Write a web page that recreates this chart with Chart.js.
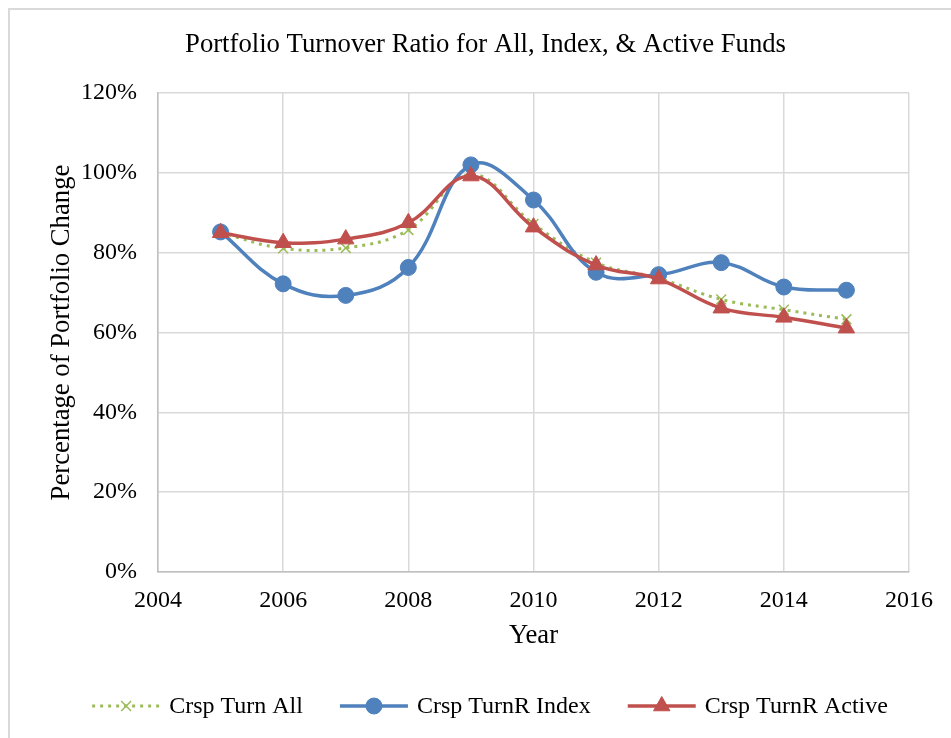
<!DOCTYPE html>
<html>
<head>
<meta charset="utf-8">
<script src="https://cdn.jsdelivr.net/npm/chart.js@4"></script>
<style>
  html, body { margin: 0; padding: 0; background: #fff; }
  #wrap { position: relative; width: 951px; height: 738px; overflow: hidden; }
  #frame { position: absolute; left: 8px; top: 8px; width: 1000px; height: 800px; border: 2px solid #d9d9d9; box-sizing: border-box; }
  canvas { position: absolute; left: 0; top: 0; }
</style>
</head>
<body>
<div id="wrap">
  <div id="frame"></div>
  <canvas id="chart" width="951" height="738"></canvas>
</div>
<script>
// values (percent)
const years = [2005, 2006, 2007, 2008, 2009, 2010, 2011, 2012, 2013, 2014, 2015];
const turnAll = [85.0, 81.1, 81.2, 85.7, 99.6, 87.2, 77.5, 73.6, 68.3, 65.7, 63.3];
const turnIndex = [85.2, 72.2, 69.3, 76.3, 102.0, 93.2, 75.1, 74.5, 77.5, 71.4, 70.6];
const turnActive = [85.0, 82.5, 83.4, 87.5, 99.2, 86.4, 76.9, 73.4, 66.1, 63.8, 61.1];
const yTicks = [0, 20, 40, 60, 80, 100, 120];

const GREEN = '#9bbb59', BLUE = '#4f81bd', RED = '#c0504d';
const FONT = '"Liberation Serif", "Times New Roman", serif';

const pts = arr => arr.map((v, i) => ({ x: years[i], y: v }));

// legend drawn Excel-style: long line with the marker in the middle
const excelLegend = {
  id: 'excelLegend',
  afterDraw(chart) {
    const ctx = chart.ctx;
    const lineLen = 68, gap = 9, itemGap = 37, y = 706;
    ctx.save();
    ctx.font = '24px ' + FONT;
    const items = chart.data.datasets.map(ds => ({ ds, w: ctx.measureText(ds.label).width }));
    const total = items.reduce((s, it) => s + lineLen + gap + it.w, 0) + itemGap * (items.length - 1);
    let x = 490 - total / 2;
    items.forEach(({ ds, w }) => {
      ctx.save();
      ctx.strokeStyle = ds.borderColor;
      ctx.lineWidth = ds.borderWidth;
      ctx.setLineDash(ds.borderDash || []);
      ctx.beginPath();
      ctx.moveTo(x, y);
      ctx.lineTo(x + lineLen, y);
      ctx.stroke();
      ctx.restore();

      ctx.save();
      ctx.fillStyle = ds.pointBackgroundColor;
      ctx.strokeStyle = ds.pointBorderColor;
      ctx.lineWidth = ds.pointBorderWidth;
      Chart.helpers.drawPoint(ctx, {
        pointStyle: ds.pointStyle,
        radius: ds.pointRadius,
        borderWidth: ds.pointBorderWidth
      }, x + lineLen / 2, y);
      ctx.restore();

      ctx.fillStyle = '#000';
      ctx.textBaseline = 'middle';
      ctx.textAlign = 'left';
      ctx.fillText(ds.label, x + lineLen + gap, y + 1);
      x += lineLen + gap + w + itemGap;
    });
    ctx.restore();
  }
};

new Chart(document.getElementById('chart'), {
  type: 'line',
  data: {
    datasets: [
      {
        label: 'Crsp Turn All',
        data: pts(turnAll),
        borderColor: GREEN,
        borderWidth: 3,
        borderDash: [3, 5],
        pointStyle: 'crossRot',
        pointRadius: 7,
        pointBorderWidth: 1.5,
        pointBorderColor: GREEN,
        pointBackgroundColor: GREEN,
        tension: 0.4,
        order: 3
      },
      {
        label: 'Crsp TurnR Index',
        data: pts(turnIndex),
        borderColor: BLUE,
        borderWidth: 3.5,
        pointStyle: 'circle',
        pointRadius: 8,
        pointBorderWidth: 1,
        pointBorderColor: BLUE,
        pointBackgroundColor: BLUE,
        tension: 0.4,
        order: 2
      },
      {
        label: 'Crsp TurnR Active',
        data: pts(turnActive),
        borderColor: RED,
        borderWidth: 3.5,
        pointStyle: 'triangle',
        pointRadius: 9.5,
        pointBorderWidth: 1,
        pointBorderColor: RED,
        pointBackgroundColor: RED,
        tension: 0.4,
        order: 1
      }
    ]
  },
  options: {
    responsive: false,
    animation: false,
    layout: { padding: { left: 62, right: 42, top: 0, bottom: 85.5 } },
    plugins: {
      legend: { display: false },
      tooltip: { enabled: false },
      title: {
        display: true,
        text: 'Portfolio Turnover Ratio for All, Index, & Active Funds',
        color: '#000',
        font: { family: FONT, size: 26.7, weight: 'normal', lineHeight: 1.2 },
        padding: { top: 29, bottom: 32 }
      }
    },
    scales: {
      x: {
        type: 'linear',
        min: 2004,
        max: 2016,
        ticks: {
          stepSize: 2,
          color: '#000',
          padding: 14,
          font: { family: FONT, size: 24 },
          callback: v => String(v)
        },
        grid: { color: '#d9d9d9', lineWidth: 1.5, drawTicks: false },
        border: { color: '#bfbfbf', width: 1.5 },
        title: {
          display: true,
          text: 'Year',
          color: '#000',
          font: { family: FONT, size: 26.7, lineHeight: 1.2 },
          padding: { top: 0, bottom: 0 }
        },
        afterFit(scale) { scale.height = 80.5; }
      },
      y: {
        min: 0,
        max: 120,
        afterBuildTicks(scale) { scale.ticks = yTicks.map(v => ({ value: v })); },
        ticks: {
          color: '#000',
          padding: 21,
          font: { family: FONT, size: 24 },
          callback: v => v + '%'
        },
        grid: { color: '#d9d9d9', lineWidth: 1.5, drawTicks: false },
        border: { color: '#bfbfbf', width: 1.5 },
        title: {
          display: true,
          text: 'Percentage of Portfolio Change',
          color: '#000',
          font: { family: FONT, size: 26.7, lineHeight: 1.2 },
          padding: { top: -16, bottom: 0 }
        },
        afterFit(scale) { scale.width = 96; }
      }
    }
  },
  plugins: [excelLegend]
});
</script>
</body>
</html>
